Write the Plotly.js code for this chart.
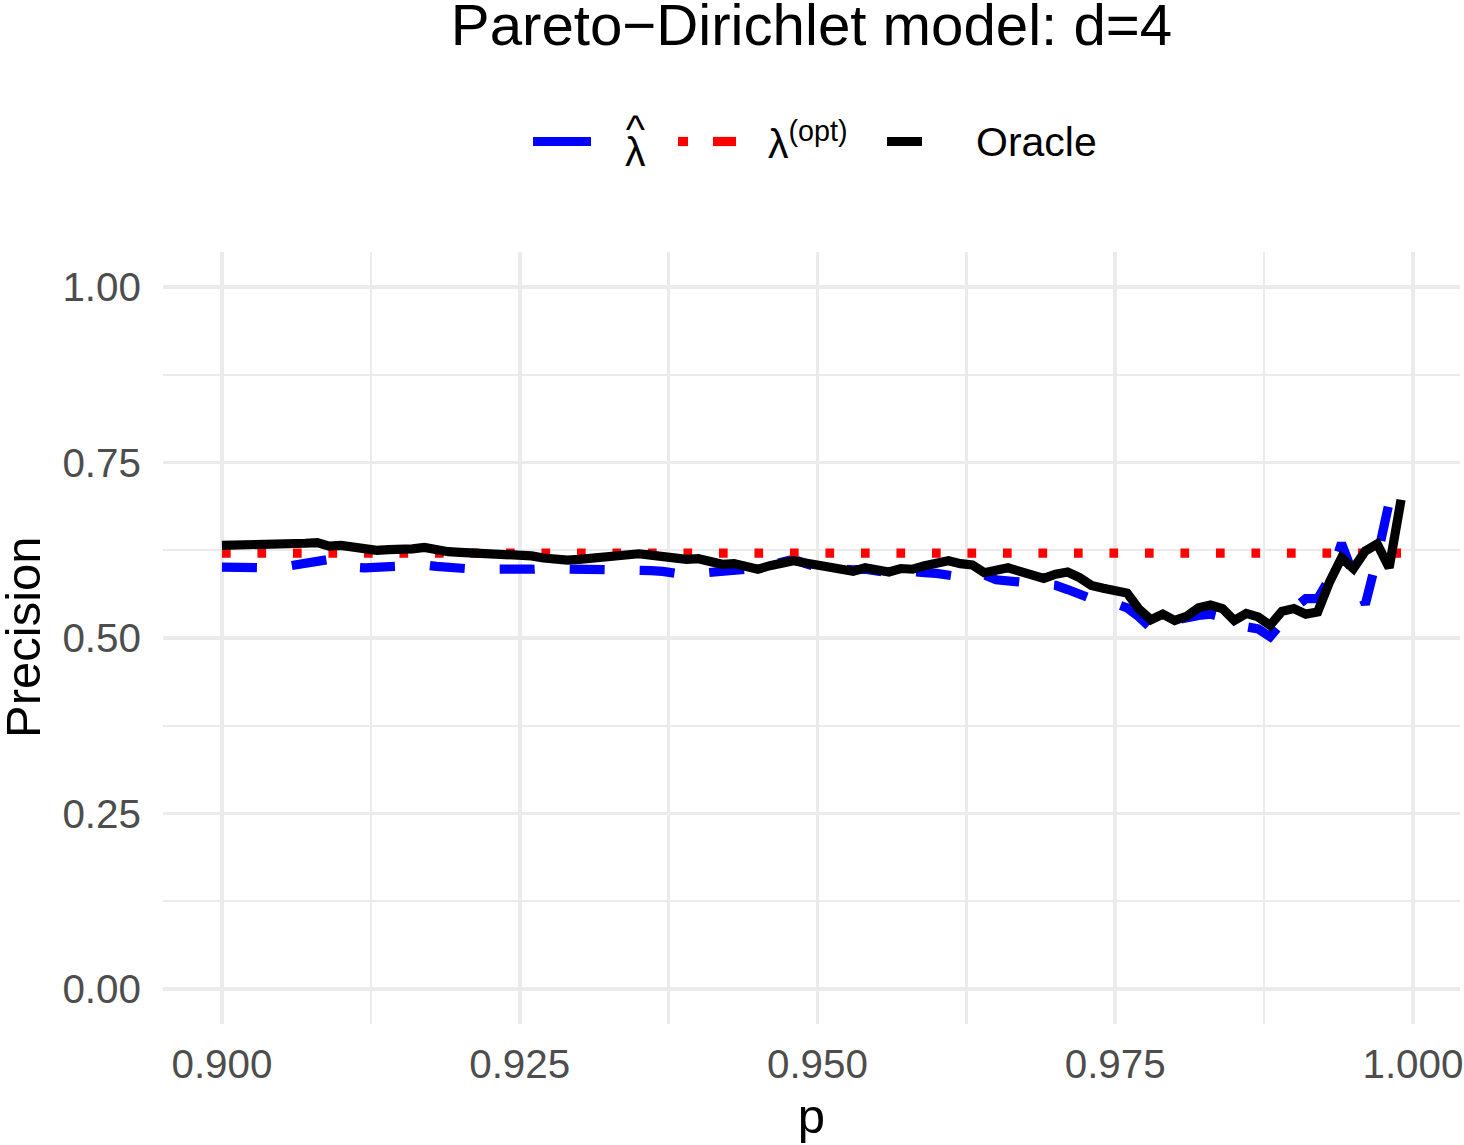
<!DOCTYPE html>
<html>
<head>
<meta charset="utf-8">
<script src="https://cdn.plot.ly/plotly-3.0.1.min.js"></script>
<style>html,body{margin:0;padding:0;background:#fff;}#chart{width:1464px;height:1145px;}</style>
</head>
<body>
<div id="chart"></div>
<script>
// ---- data ----
const pValues = [
 0.900,0.901,0.902,0.903,0.904,0.905,0.906,0.907,0.908,0.909,
 0.910,0.911,0.912,0.913,0.914,0.915,0.916,0.917,0.918,0.919,
 0.920,0.921,0.922,0.923,0.924,0.925,0.926,0.927,0.928,0.929,
 0.930,0.931,0.932,0.933,0.934,0.935,0.936,0.937,0.938,0.939,
 0.940,0.941,0.942,0.943,0.944,0.945,0.946,0.947,0.948,0.949,
 0.950,0.951,0.952,0.953,0.954,0.955,0.956,0.957,0.958,0.959,
 0.960,0.961,0.962,0.963,0.964,0.965,0.966,0.967,0.968,0.969,
 0.970,0.971,0.972,0.973,0.974,0.975,0.976,0.977,0.978,0.979,
 0.980,0.981,0.982,0.983,0.984,0.985,0.986,0.987,0.988,0.989,
 0.990,0.991,0.992,0.993,0.994,0.995,0.996,0.997,0.998,0.999
];
const lambdaHat = [
 0.601,0.600,0.601,0.600,0.600,0.601,0.603,0.605,0.607,0.612,
 0.608,0.601,0.600,0.601,0.602,0.603,0.605,0.604,0.602,0.600,
 0.598,0.596,0.597,0.598,0.597,0.597,0.598,0.599,0.599,0.598,
 0.598,0.598,0.597,0.598,0.598,0.597,0.596,0.595,0.592,0.590,
 0.592,0.593,0.593,0.595,0.598,0.600,0.604,0.610,0.612,0.606,
 0.601,0.600,0.598,0.597,0.598,0.597,0.593,0.596,0.596,0.593,
 0.592,0.591,0.587,0.585,0.590,0.583,0.581,0.580,0.579,0.578,
 0.575,0.569,0.561,0.556,0.555,0.550,0.543,0.530,0.514,0.522,
 0.526,0.528,0.532,0.534,0.530,0.525,0.516,0.513,0.502,0.522,
 0.542,0.556,0.556,0.585,0.635,0.590,0.548,0.615,0.693,0.700
];
const pOpt = [0.900, 0.999];
const lambdaOpt = [0.621, 0.621];
const oracle = [
 0.632,0.632,0.633,0.635,0.634,0.635,0.635,0.635,0.636,0.631,
 0.632,0.629,0.626,0.625,0.626,0.625,0.627,0.629,0.625,0.623,
 0.622,0.621,0.620,0.619,0.621,0.619,0.617,0.614,0.612,0.611,
 0.612,0.614,0.614,0.616,0.619,0.620,0.618,0.616,0.613,0.612,
 0.613,0.610,0.605,0.606,0.603,0.598,0.603,0.607,0.610,0.607,
 0.604,0.602,0.599,0.595,0.600,0.598,0.594,0.599,0.598,0.603,
 0.605,0.610,0.606,0.604,0.593,0.596,0.600,0.595,0.591,0.585,
 0.591,0.594,0.586,0.575,0.571,0.569,0.564,0.541,0.526,0.534,
 0.525,0.531,0.543,0.547,0.542,0.525,0.535,0.530,0.518,0.538,
 0.542,0.534,0.537,0.580,0.614,0.599,0.624,0.634,0.600,0.697
];
const xTicks = [0.900, 0.925, 0.950, 0.975, 1.000];
const xTickLabels = ['0.900', '0.925', '0.950', '0.975', '1.000'];
const xMinorTicks = [0.9125, 0.9375, 0.9625, 0.9875];
const yTicks = [0, 0.25, 0.5, 0.75, 1];
const yTickLabels = ['0.00', '0.25', '0.50', '0.75', '1.00'];
const yMinorTicks = [0.125, 0.375, 0.625, 0.875];
const seriesNames = ['\u03bb\u0302', '\u03bb<sup>(opt)</sup>', 'Oracle'];
const seriesColors = ['#0000FF', '#FF0000', '#000000'];
const yTitle = 'Precision';
const xTitle = 'p';

// ---- plot ----
const FONT = 'Liberation Sans, Arial, Helvetica, sans-serif';
const LW = 9.2;
const traces = [
  {x: pValues, y: lambdaHat, type: 'scatter', mode: 'lines', name: seriesNames[0],
   line: {color: seriesColors[0], width: LW, dash: '35px,35px'}, showlegend: false},
  {x: pOpt, y: lambdaOpt, type: 'scatter', mode: 'lines', name: seriesNames[1],
   line: {color: seriesColors[1], width: LW, dash: '8.7px,26.8px'}, showlegend: false},
  {x: pValues, y: oracle, type: 'scatter', mode: 'lines', name: seriesNames[2],
   line: {color: seriesColors[2], width: LW}, showlegend: false}
];

// plot-area geometry in pixels (for the hand-made legend in paper coords)
const L = 163, T = 252, W = 1297, H = 772;
const px = v => (v - L) / W;
const py = v => (T + H - v) / H;
const keyY = py(141.5);

const shapes = [
  {type: 'line', xref: 'paper', yref: 'paper', x0: px(533), x1: px(591), y0: keyY, y1: keyY,
   line: {color: seriesColors[0], width: LW}},
  {type: 'line', xref: 'paper', yref: 'paper', x0: px(678), x1: px(688), y0: keyY, y1: keyY,
   line: {color: seriesColors[1], width: LW}},
  {type: 'line', xref: 'paper', yref: 'paper', x0: px(713), x1: px(736), y0: keyY, y1: keyY,
   line: {color: seriesColors[1], width: LW}},
  {type: 'line', xref: 'paper', yref: 'paper', x0: px(887), x1: px(922), y0: keyY, y1: keyY,
   line: {color: seriesColors[2], width: LW}}
];

const LEGSIZE = 41;
const legFont = {family: FONT, size: LEGSIZE, color: '#000000'};
const sp = t => '<span style="font-size:' + LEGSIZE + 'px">' + t + '</span>';
const annotations = [
  // hat over lambda, as one text: small base size sets a tight line spacing
  {xref: 'paper', yref: 'paper', x: px(635), y: py(141), text: sp('^') + '<br>' + sp('\u03bb'),
   showarrow: false, xanchor: 'center', yanchor: 'middle',
   font: {family: FONT, size: 18, color: '#000000'}},
  {xref: 'paper', yref: 'paper', x: px(766), y: py(141), text: seriesNames[1], showarrow: false,
   xanchor: 'left', yanchor: 'middle', font: legFont},
  {xref: 'paper', yref: 'paper', x: px(974), y: py(142), text: seriesNames[2], showarrow: false,
   xanchor: 'left', yanchor: 'middle', font: legFont},
  // y-axis title
  {xref: 'paper', yref: 'paper', x: px(23), y: py(637), text: yTitle, showarrow: false,
   textangle: -90, xanchor: 'center', yanchor: 'middle',
   font: {family: FONT, size: 49, color: '#000000'}}
];

const gridCol = '#EBEBEB';
const TICKSIZE = 40.4;
const layout = {
  width: 1464, height: 1145,
  paper_bgcolor: '#FFFFFF', plot_bgcolor: '#FFFFFF',
  margin: {l: L, r: 1464 - L - W, t: T, b: 1145 - T - H, pad: 0},
  font: {family: FONT},
  title: {text: 'Pareto\u2212Dirichlet model: d=4', x: 0.5, xref: 'paper', xanchor: 'center',
          y: 1 - 25 / 1145, yref: 'container', yanchor: 'middle',
          font: {family: FONT, size: 58.2, color: '#000000'}},
  xaxis: {
    range: [0.89505, 1.00395], tickmode: 'array', tickvals: xTicks, ticktext: xTickLabels,
    showgrid: true, gridcolor: gridCol, gridwidth: 3.6, zeroline: false, showline: false,
    ticks: '', ticklabelstandoff: 13,
    tickfont: {family: FONT, size: TICKSIZE, color: '#4D4D4D'},
    minor: {tickmode: 'array', tickvals: xMinorTicks, showgrid: true, gridcolor: gridCol, gridwidth: 2.4, ticks: ''},
    title: {text: xTitle, standoff: 12, font: {family: FONT, size: 49, color: '#000000'}},
    automargin: false
  },
  yaxis: {
    range: [-0.05, 1.05], tickmode: 'array', tickvals: yTicks, ticktext: yTickLabels,
    showgrid: true, gridcolor: gridCol, gridwidth: 3.6, zeroline: false, showline: false,
    ticks: '', ticklabelstandoff: 21,
    tickfont: {family: FONT, size: TICKSIZE, color: '#4D4D4D'},
    minor: {tickmode: 'array', tickvals: yMinorTicks, showgrid: true, gridcolor: gridCol, gridwidth: 2.4, ticks: ''},
    automargin: false
  },
  showlegend: false,
  shapes: shapes,
  annotations: annotations
};

Plotly.newPlot('chart', traces, layout, {displayModeBar: false, staticPlot: true});
</script>
</body>
</html>
